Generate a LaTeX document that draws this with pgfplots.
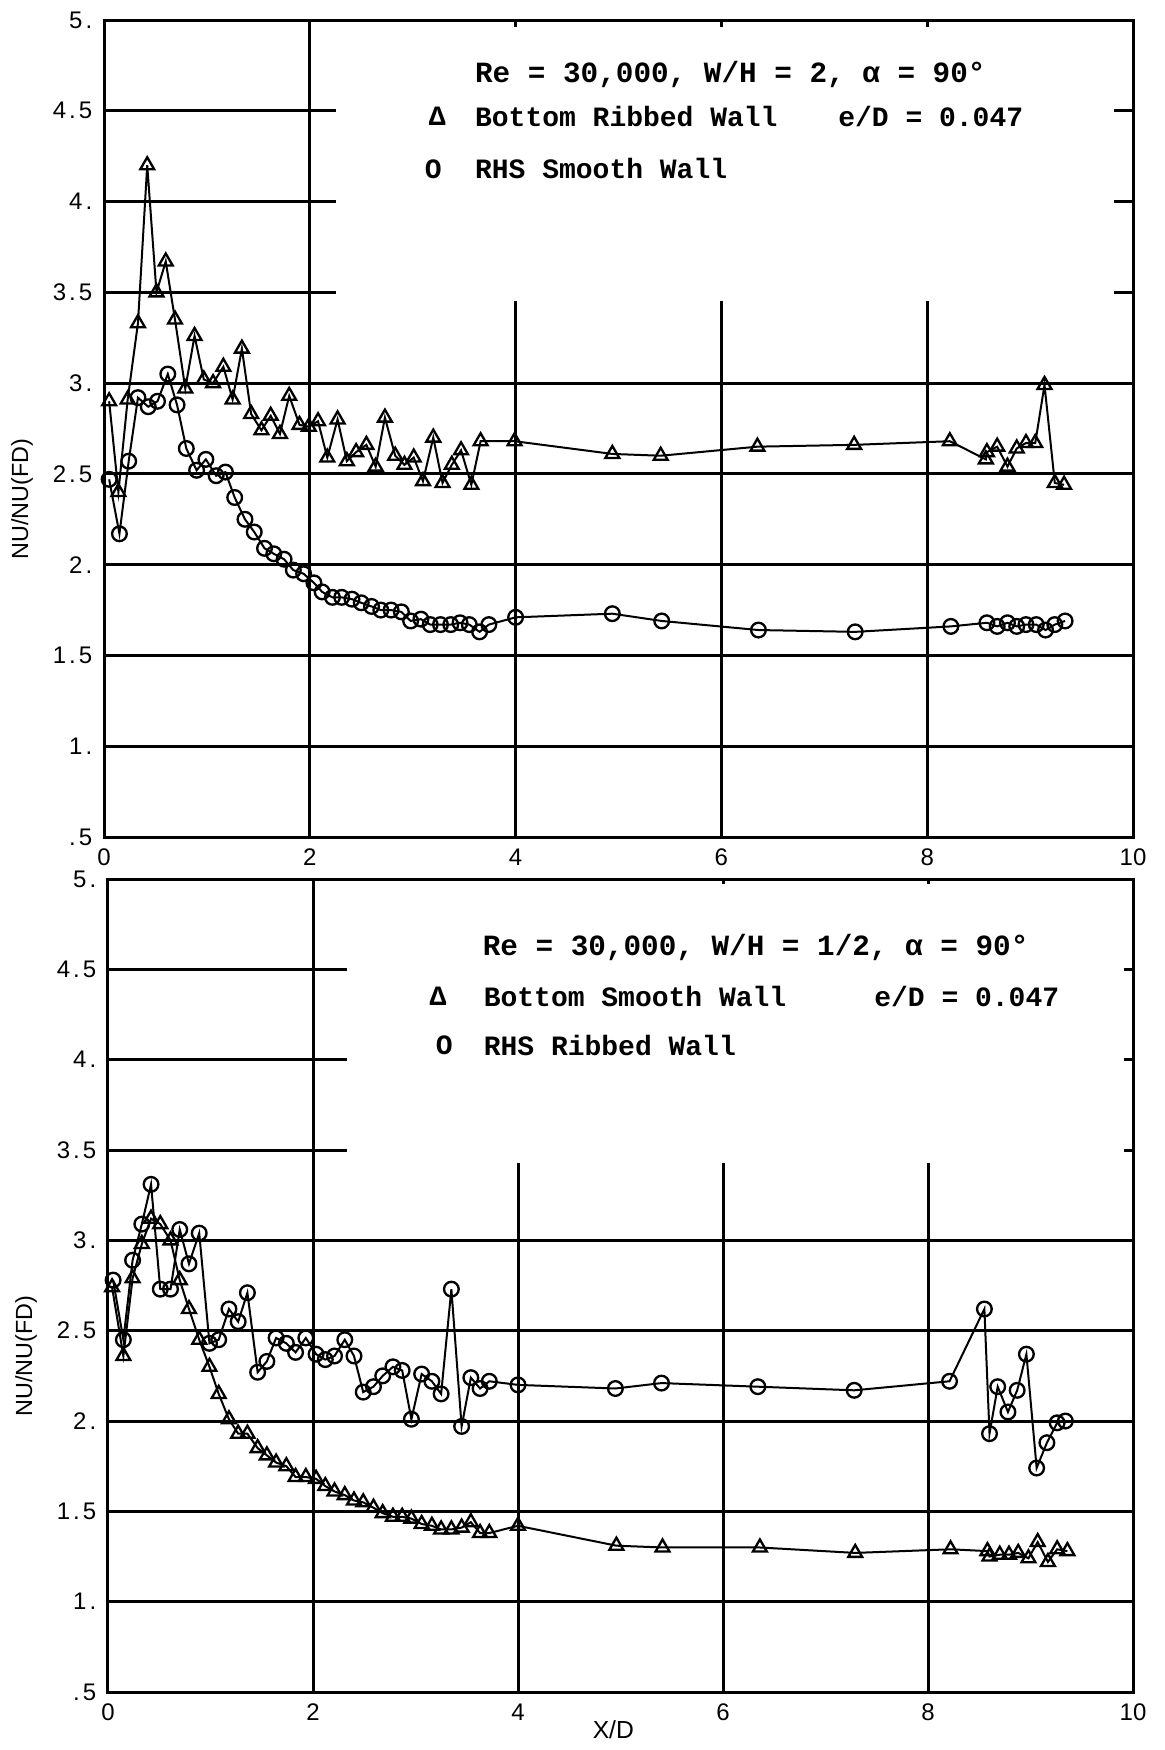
\documentclass[border=0pt]{standalone}
\usepackage{pgfplots}
\pgfplotsset{compat=1.18}
\usepackage{fontspec}
\setmainfont{Liberation Sans}
\newfontfamily\tw{Liberation Mono}
\newcommand\lsp{\kern0.9pt}
\tikzset{gl/.style={black, line width=0.9pt}}
\pgfplotsset{
  myax/.style={
    scale only axis,
    xmin=0, xmax=10, ymin=0.5, ymax=5,
    xtick={0,2,4,6,8,10}, xticklabels={0,2,4,6,8,10},
    ytick={0.5,1,1.5,2,2.5,3,3.5,4,4.5,5},
    yticklabels={.\lsp5,1\lsp.,1\lsp.\lsp5,2\lsp.,2\lsp.\lsp5,3\lsp.,3\lsp.\lsp5,4\lsp.,4\lsp.\lsp5,5\lsp.},
    major tick length=0pt,
    tick label style={font=\fontsize{7.2}{8}\selectfont},
    xticklabel style={yshift=0pt},
    axis line style={line width=0.9pt},
    clip=false,
  },
  tri/.style={black, line width=0.6pt, mark=triangle, mark size=2.4pt, mark options={line width=0.7pt}},
  cir/.style={black, line width=0.6pt, mark=o, mark size=2.2pt, mark options={line width=0.7pt}},
}
\begin{document}
\begin{tikzpicture}
\path[use as bounding box] (0,0) rectangle (349.5pt,-525pt);
% ---------------- top ----------------
\begin{axis}[myax, width=308.7pt, height=245.1pt, at={(31.2pt,-251.1pt)}, anchor=south west]
\draw[gl] (axis cs:0,3) -- (axis cs:10,3);
\draw[gl] (axis cs:0,2.5) -- (axis cs:10,2.5);
\draw[gl] (axis cs:0,2) -- (axis cs:10,2);
\draw[gl] (axis cs:0,1.5) -- (axis cs:10,1.5);
\draw[gl] (axis cs:0,1) -- (axis cs:10,1);
\draw[gl] (axis cs:0,4.5) -- (axis cs:2.25,4.5);
\draw[gl] (axis cs:0,4) -- (axis cs:2.25,4);
\draw[gl] (axis cs:0,3.5) -- (axis cs:2.25,3.5);
\draw[gl] (axis cs:9.82,4.5) -- (axis cs:10,4.5);
\draw[gl] (axis cs:9.82,4) -- (axis cs:10,4);
\draw[gl] (axis cs:9.82,3.5) -- (axis cs:10,3.5);
\draw[gl] (axis cs:2,0.5) -- (axis cs:2,5);
\draw[gl] (axis cs:4,0.5) -- (axis cs:4,3.45);
\draw[gl] (axis cs:6,0.5) -- (axis cs:6,3.45);
\draw[gl] (axis cs:8,0.5) -- (axis cs:8,3.45);
\draw[gl] (axis cs:4,5) -- (axis cs:4,4.96);
\draw[gl] (axis cs:6,5) -- (axis cs:6,4.96);
\draw[gl] (axis cs:8,5) -- (axis cs:8,4.96);
\addplot[tri] coordinates {(0.05,2.90)(0.14,2.40)(0.23,2.91)(0.33,3.33)(0.42,4.20)(0.51,3.50)(0.60,3.67)(0.69,3.35)(0.79,2.97)(0.88,3.26)(0.97,3.02)(1.06,3.00)(1.16,3.09)(1.25,2.91)(1.34,3.19)(1.43,2.83)(1.53,2.74)(1.62,2.82)(1.71,2.72)(1.80,2.93)(1.90,2.77)(1.99,2.76)(2.08,2.79)(2.17,2.59)(2.27,2.80)(2.36,2.57)(2.45,2.62)(2.55,2.66)(2.64,2.54)(2.73,2.81)(2.83,2.60)(2.92,2.55)(3.01,2.59)(3.10,2.46)(3.20,2.70)(3.29,2.45)(3.38,2.55)(3.47,2.63)(3.57,2.44)(3.66,2.68)(3.99,2.68)(4.94,2.61)(5.41,2.60)(6.35,2.65)(7.29,2.66)(8.22,2.68)(8.57,2.58)(8.58,2.62)(8.68,2.65)(8.78,2.54)(8.87,2.64)(8.96,2.67)(9.05,2.67)(9.14,2.99)(9.24,2.45)(9.33,2.44)};
\addplot[cir] coordinates {(0.05,2.47)(0.15,2.17)(0.24,2.57)(0.33,2.92)(0.43,2.87)(0.52,2.90)(0.62,3.05)(0.71,2.88)(0.80,2.64)(0.90,2.52)(0.99,2.58)(1.09,2.49)(1.18,2.51)(1.27,2.37)(1.37,2.25)(1.46,2.18)(1.56,2.09)(1.65,2.06)(1.75,2.03)(1.84,1.97)(1.94,1.95)(2.04,1.90)(2.12,1.85)(2.22,1.82)(2.31,1.82)(2.41,1.81)(2.50,1.79)(2.60,1.77)(2.69,1.75)(2.79,1.75)(2.89,1.74)(2.98,1.69)(3.08,1.70)(3.17,1.67)(3.27,1.67)(3.37,1.67)(3.46,1.68)(3.55,1.67)(3.65,1.63)(3.74,1.67)(4.00,1.71)(4.94,1.73)(5.42,1.69)(6.36,1.64)(7.30,1.63)(8.23,1.66)(8.58,1.68)(8.68,1.66)(8.78,1.68)(8.87,1.66)(8.96,1.67)(9.06,1.67)(9.15,1.64)(9.24,1.67)(9.34,1.69)};
\node[anchor=west, font=\tw\bfseries\fontsize{8.8}{10}\selectfont, inner sep=0pt] at (axis cs:3.60,4.70) {Re = 30,000, W/H = 2, α = 90°};
\node[font=\tw\bfseries\fontsize{8.4}{10}\selectfont, inner sep=0pt] at (axis cs:3.24,4.47) {Δ};
\node[anchor=west, font=\tw\bfseries\fontsize{8.4}{10}\selectfont, inner sep=0pt] at (axis cs:3.60,4.47) {Bottom Ribbed Wall};
\node[anchor=west, font=\tw\bfseries\fontsize{8.4}{10}\selectfont, inner sep=0pt] at (axis cs:7.13,4.47) {e/D = 0.047};
\node[font=\tw\bfseries\fontsize{8.4}{10}\selectfont, inner sep=0pt] at (axis cs:3.20,4.18) {O};
\node[anchor=west, font=\tw\bfseries\fontsize{8.4}{10}\selectfont, inner sep=0pt] at (axis cs:3.60,4.18) {RHS Smooth Wall};
\node[rotate=90, font=\fontsize{7}{8}\selectfont, inner sep=0pt] at ([xshift=-24.6pt]axis cs:0,2.36) {NU/NU(FD)};
\end{axis}
% ---------------- bottom ----------------
\begin{axis}[myax, width=307.5pt, height=243.9pt, at={(32.4pt,-507.6pt)}, anchor=south west]
\draw[gl] (axis cs:0,3) -- (axis cs:10,3);
\draw[gl] (axis cs:0,2.5) -- (axis cs:10,2.5);
\draw[gl] (axis cs:0,2) -- (axis cs:10,2);
\draw[gl] (axis cs:0,1.5) -- (axis cs:10,1.5);
\draw[gl] (axis cs:0,1) -- (axis cs:10,1);
\draw[gl] (axis cs:0,4.5) -- (axis cs:2.33,4.5);
\draw[gl] (axis cs:0,4) -- (axis cs:2.33,4);
\draw[gl] (axis cs:0,3.5) -- (axis cs:2.33,3.5);
\draw[gl] (axis cs:9.91,4.5) -- (axis cs:10,4.5);
\draw[gl] (axis cs:9.91,4) -- (axis cs:10,4);
\draw[gl] (axis cs:9.91,3.5) -- (axis cs:10,3.5);
\draw[gl] (axis cs:2,0.5) -- (axis cs:2,5);
\draw[gl] (axis cs:4,0.5) -- (axis cs:4,3.43);
\draw[gl] (axis cs:6,0.5) -- (axis cs:6,3.43);
\draw[gl] (axis cs:8,0.5) -- (axis cs:8,3.43);
\draw[gl] (axis cs:6,5) -- (axis cs:6,4.97);
\draw[gl] (axis cs:8,5) -- (axis cs:8,4.97);
\addplot[tri] coordinates {(0.04,2.74)(0.15,2.36)(0.24,2.79)(0.33,2.98)(0.42,3.12)(0.51,3.09)(0.61,3.00)(0.70,2.78)(0.79,2.62)(0.89,2.45)(0.99,2.30)(1.08,2.15)(1.18,2.01)(1.27,1.93)(1.36,1.93)(1.46,1.85)(1.55,1.81)(1.64,1.77)(1.74,1.75)(1.83,1.69)(1.93,1.69)(2.03,1.68)(2.12,1.64)(2.21,1.61)(2.31,1.59)(2.40,1.56)(2.49,1.55)(2.59,1.52)(2.68,1.49)(2.78,1.47)(2.87,1.47)(2.96,1.46)(3.06,1.43)(3.16,1.42)(3.25,1.40)(3.35,1.40)(3.45,1.41)(3.54,1.44)(3.63,1.38)(3.72,1.38)(4.00,1.42)(4.96,1.31)(5.41,1.30)(6.36,1.30)(7.29,1.27)(8.22,1.29)(8.58,1.28)(8.60,1.25)(8.70,1.26)(8.79,1.26)(8.88,1.27)(8.98,1.24)(9.07,1.33)(9.17,1.22)(9.26,1.29)(9.36,1.28)};
\addplot[cir] coordinates {(0.05,2.78)(0.15,2.45)(0.24,2.89)(0.33,3.09)(0.42,3.31)(0.51,2.73)(0.61,2.73)(0.70,3.06)(0.79,2.87)(0.89,3.04)(0.99,2.43)(1.08,2.45)(1.18,2.62)(1.27,2.55)(1.36,2.71)(1.46,2.27)(1.55,2.33)(1.64,2.46)(1.74,2.43)(1.83,2.38)(1.93,2.46)(2.03,2.37)(2.12,2.34)(2.21,2.36)(2.31,2.45)(2.40,2.36)(2.49,2.16)(2.59,2.19)(2.68,2.25)(2.78,2.30)(2.87,2.28)(2.96,2.01)(3.06,2.26)(3.16,2.22)(3.25,2.15)(3.35,2.73)(3.45,1.97)(3.54,2.24)(3.63,2.18)(3.72,2.22)(4.00,2.20)(4.95,2.18)(5.40,2.21)(6.34,2.19)(7.28,2.17)(8.21,2.22)(8.55,2.62)(8.60,1.93)(8.68,2.19)(8.78,2.05)(8.87,2.17)(8.96,2.37)(9.06,1.74)(9.16,1.88)(9.26,1.99)(9.34,2.00)};
\node[anchor=west, font=\tw\bfseries\fontsize{8.8}{10}\selectfont, inner sep=0pt] at (axis cs:3.65,4.62) {Re = 30,000, W/H = 1/2, α = 90°};
\node[font=\tw\bfseries\fontsize{8.4}{10}\selectfont, inner sep=0pt] at (axis cs:3.22,4.35) {Δ};
\node[anchor=west, font=\tw\bfseries\fontsize{8.4}{10}\selectfont, inner sep=0pt] at (axis cs:3.66,4.35) {Bottom Smooth Wall};
\node[anchor=west, font=\tw\bfseries\fontsize{8.4}{10}\selectfont, inner sep=0pt] at (axis cs:7.47,4.35) {e/D = 0.047};
\node[font=\tw\bfseries\fontsize{8.4}{10}\selectfont, inner sep=0pt] at (axis cs:3.28,4.08) {O};
\node[anchor=west, font=\tw\bfseries\fontsize{8.4}{10}\selectfont, inner sep=0pt] at (axis cs:3.66,4.08) {RHS Ribbed Wall};
\node[rotate=90, font=\fontsize{7}{8}\selectfont, inner sep=0pt] at ([xshift=-24.6pt]axis cs:0,2.36) {NU/NU(FD)};
\node[font=\fontsize{7.4}{8}\selectfont, inner sep=0pt] at ([yshift=-11.4pt]axis cs:4.93,0.5) {X/D};
\end{axis}
\end{tikzpicture}
\end{document}
